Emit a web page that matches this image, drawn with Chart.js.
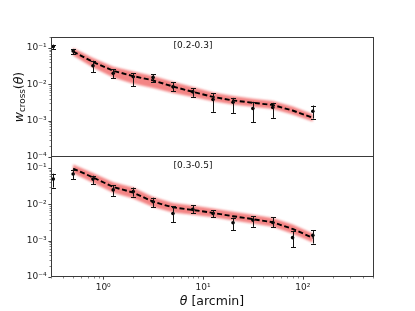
<!DOCTYPE html>
<html><head><meta charset="utf-8">
<script src="https://cdn.jsdelivr.net/npm/chart.js@4.4.1/dist/chart.umd.min.js"></script>
<style>
html,body{margin:0;padding:0;background:#fff;}
#wrap{position:relative;width:415px;height:311px;overflow:hidden;background:#fff;}
canvas{position:absolute;left:0;}
</style>
</head><body>
<div id="wrap">
<canvas id="c1" width="415" height="166" style="top:0px"></canvas>
<canvas id="c2" width="415" height="154" style="top:157px"></canvas>
</div>
<script>
// ---------- data ----------
const xTop = [0.316,0.5,0.79,1.26,2.0,3.16,5.0,7.9,12.6,20,31.6,50,126];
const yTop = [0.109,0.083,0.0325,0.020,0.0161,0.0155,0.0085,0.0062,0.0038,0.0032,0.00216,0.0023,0.00182];
const yTopHi = [0.123,0.094,0.0445,0.0258,0.020,0.0188,0.0113,0.0077,0.0056,0.00423,0.00329,0.00308,0.00261];
const yTopLo = [0.094,0.067,0.0213,0.0146,0.0089,0.0117,0.0065,0.0045,0.00174,0.00163,0.00089,0.00119,0.00114];

const xBot = [0.316,0.5,0.79,1.26,2.0,3.16,5.0,7.9,12.6,20,31.6,50,79,126];
const yBot = [0.0494,0.068,0.0494,0.0249,0.0224,0.0118,0.0056,0.00726,0.0056,0.0031,0.00367,0.00316,0.00121,0.0014];
const yBotHi = [0.0695,0.0897,0.061,0.0329,0.0289,0.0152,0.00897,0.00957,0.00681,0.00425,0.00473,0.00436,0.00185,0.00193];
const yBotLo = [0.0289,0.0494,0.036,0.017,0.0163,0.00826,0.00316,0.0056,0.00436,0.00193,0.00239,0.0023,0.00066,0.00083];

const xModel = [0.5,0.79,1.26,2.0,3.16,5.0,7.9,12.6,20,31.6,50,79,126];
const modelTop = [0.08,0.041,0.0235,0.0168,0.0128,0.0087,0.0062,0.0045,0.0036,0.0031,0.0027,0.0019,0.0012];
const bandTopHi = [0.100,0.0528,0.0303,0.0226,0.0169,0.0117,0.00836,0.00593,0.00474,0.00399,0.00348,0.00245,0.00151];
const bandTopLo = [0.0621,0.0290,0.0155,0.01035,0.00789,0.00575,0.00449,0.00341,0.00279,0.0024,0.00209,0.00148,0.00095];
const modelBot = [0.096,0.055,0.030,0.021,0.0118,0.0082,0.0070,0.0058,0.0047,0.0039,0.0032,0.0021,0.0012];
const bandBotHi = [0.1236,0.0724,0.0405,0.029,0.0159,0.0108,0.00923,0.00764,0.0062,0.00514,0.00422,0.00277,0.00158];
const bandBotLo = [0.0711,0.0389,0.0207,0.01452,0.00836,0.00594,0.00519,0.0044,0.00356,0.00296,0.00243,0.00156,0.00089];

const xTickValues = [1,10,100];
const xTickLabels = ['10\u2070','10\u00b9','10\u00b2'];
const yTickValues = [1e-4,1e-3,1e-2,1e-1];
const yTickLabels = ['10\u207b\u2074','10\u207b\u00b3','10\u207b\u00b2','10\u207b\u00b9'];
const panelLabels = ['[0.2-0.3]','[0.3-0.5]'];

const X_MIN = 0.3, X_MAX = 505, Y_MIN = 1e-4, Y_MAX = 0.2;
const FONT = '"DejaVu Sans", sans-serif';

function minorList(lo, hi){
  const out=[];
  for(let k=-6;k<=4;k++){ for(let m=1;m<=9;m++){ const v=m*Math.pow(10,k); if(v>=lo*0.999 && v<=hi*1.001) out.push({v, major:m===1}); } }
  return out;
}

const panelPlugin = {
  id:'panel',
  beforeDatasetsDraw(chart, args, o){
    const ctx=chart.ctx, a=chart.chartArea, xs=chart.scales.x, ys=chart.scales.y;
    ctx.save();
    ctx.beginPath(); ctx.rect(a.left,a.top,a.right-a.left,a.bottom-a.top); ctx.clip();
    ctx.filter='blur(1.3px)';
    ctx.beginPath();
    o.bandX.forEach((x,i)=>{ const px=xs.getPixelForValue(x), py=ys.getPixelForValue(o.bandHi[i]); i?ctx.lineTo(px,py):ctx.moveTo(px,py); });
    for(let i=o.bandX.length-1;i>=0;i--){ ctx.lineTo(xs.getPixelForValue(o.bandX[i]), ys.getPixelForValue(o.bandLo[i])); }
    ctx.closePath();
    ctx.fillStyle='rgba(242,122,122,0.92)';
    ctx.fill();
    ctx.restore();
  },
  afterDatasetsDraw(chart, args, o){
    const ctx=chart.ctx, xs=chart.scales.x, ys=chart.scales.y;
    ctx.save();
    ctx.strokeStyle='#111'; ctx.lineWidth=1;
    o.errX.forEach((x,i)=>{
      const px=Math.round(xs.getPixelForValue(x))+0.5;
      const y1=ys.getPixelForValue(o.errHi[i]), y2=ys.getPixelForValue(o.errLo[i]);
      ctx.beginPath();
      ctx.moveTo(px,y1); ctx.lineTo(px,y2);
      ctx.moveTo(px-2.5,Math.round(y1)+0.5); ctx.lineTo(px+2.5,Math.round(y1)+0.5);
      ctx.moveTo(px-2.5,Math.round(y2)+0.5); ctx.lineTo(px+2.5,Math.round(y2)+0.5);
      ctx.stroke();
    });
    ctx.restore();
  },
  afterDraw(chart, args, o){
    const ctx=chart.ctx, a=chart.chartArea, xs=chart.scales.x, ys=chart.scales.y;
    ctx.save();
    // frame
    ctx.strokeStyle='#3a3a3a'; ctx.lineWidth=1;
    ctx.beginPath();
    if(o.drawTop){ ctx.moveTo(a.left,a.top+0.5); ctx.lineTo(a.right,a.top+0.5); }
    ctx.moveTo(a.left+0.5,a.top); ctx.lineTo(a.left+0.5,a.bottom);
    ctx.moveTo(a.right+0.5,a.top); ctx.lineTo(a.right+0.5,a.bottom);
    ctx.moveTo(a.left,a.bottom-0.5); ctx.lineTo(a.right+1,a.bottom-0.5);
    ctx.stroke();
    // y ticks
    ctx.strokeStyle='#333';
    minorList(Y_MIN,Y_MAX).forEach(t=>{
      const py=Math.round(ys.getPixelForValue(t.v))+0.5;
      ctx.lineWidth=t.major?0.9:0.6;
      ctx.beginPath(); ctx.moveTo(a.left,py); ctx.lineTo(a.left-(t.major?2.6:1.5),py); ctx.stroke();
    });
    if(o.xTicks){
      minorList(X_MIN,X_MAX).forEach(t=>{
        const px=Math.round(xs.getPixelForValue(t.v))+0.5;
        ctx.lineWidth=t.major?0.9:0.6;
        ctx.beginPath(); ctx.moveTo(px,a.bottom); ctx.lineTo(px,a.bottom+(t.major?2.6:1.5)); ctx.stroke();
      });
    }
    // panel label
    ctx.fillStyle='#111';
    ctx.font='9px '+FONT; ctx.textAlign='center'; ctx.textBaseline='middle';
    ctx.fillText(o.label, o.labelX, o.labelY);
    if(o.yTitle){
      ctx.save();
      ctx.translate(o.yTitle.x,o.yTitle.y); ctx.rotate(-Math.PI/2);
      const parts=[['w','italic 12.5px '+FONT,0],['cross','8.8px '+FONT,2.6],['(','12.5px '+FONT,0],['\u03b8','italic 12.5px '+FONT,0],[')','12.5px '+FONT,0]];
      let w=0; parts.forEach(p=>{ctx.font=p[1]; w+=ctx.measureText(p[0]).width;});
      let cx=-w/2; ctx.textAlign='left'; ctx.textBaseline='alphabetic';
      parts.forEach(p=>{ctx.font=p[1]; ctx.fillText(p[0],cx,4.2+p[2]); cx+=ctx.measureText(p[0]).width;});
      ctx.restore();
    }
    if(o.xTitle){
      const parts=[['\u03b8','italic 12.5px '+FONT],[' [arcmin]','12.5px '+FONT]];
      let w=0; parts.forEach(p=>{ctx.font=p[1]; w+=ctx.measureText(p[0]).width;});
      let cx=o.xTitle.x-w/2; ctx.textAlign='left'; ctx.textBaseline='alphabetic';
      parts.forEach(p=>{ctx.font=p[1]; ctx.fillText(p[0],cx,o.xTitle.y); cx+=ctx.measureText(p[0]).width;});
    }
    ctx.restore();
  }
};

function pts(xs, ys){ return xs.map((x,i)=>({x, y:ys[i]})); }

function makeChart(id, cfg){
  return new Chart(document.getElementById(id), {
    type:'scatter',
    data:{datasets:[
      {data:pts(cfg.ex, cfg.ey), pointRadius:1.8, pointBackgroundColor:'#000', pointBorderWidth:0, showLine:false},
      {data:pts(xModel, cfg.model), showLine:true, borderColor:'#000', borderWidth:1.9, borderDash:[5,2.6], pointRadius:0, fill:false, tension:0}
    ]},
    plugins:[panelPlugin],
    options:{
      responsive:false, animation:false, devicePixelRatio:1, events:[],
      layout:{autoPadding:false, padding:{top:cfg.padTop, right:42, bottom:cfg.padBottom, left:0}},
      plugins:{legend:{display:false}, tooltip:{enabled:false},
        panel:{bandX:xModel, bandHi:cfg.bandHi, bandLo:cfg.bandLo, errX:cfg.ex, errHi:cfg.eHi, errLo:cfg.eLo,
               drawTop:cfg.drawTop, xTicks:cfg.showX, label:cfg.label, labelX:193, labelY:cfg.labelY,
               yTitle:cfg.yTitle, xTitle:cfg.xTitle}},
      scales:{
        x:{type:'logarithmic', min:X_MIN, max:X_MAX, display:cfg.showX,
           grid:{display:false, drawTicks:false}, border:{display:false},
           afterBuildTicks:s=>{ s.ticks = xTickValues.map(v=>({value:v})); },
           ticks:{autoSkip:false, maxRotation:0, minRotation:0, padding:5, color:'#222', font:{family:FONT,size:9},
                  callback:(v,i)=>xTickLabels[i]},
           afterFit:s=>{ s.height = cfg.showX ? 34 : 0; s.paddingLeft=0; s.paddingRight=0; s.paddingTop=0; s.paddingBottom=0; }},
        y:{type:'logarithmic', min:Y_MIN, max:Y_MAX,
           grid:{display:false, drawTicks:false}, border:{display:false},
           afterBuildTicks:s=>{ s.ticks = yTickValues.map(v=>({value:v})); },
           ticks:{autoSkip:false, padding:4.5, color:'#222', font:{family:FONT,size:9},
                  callback:(v,i)=>yTickLabels[i]},
           afterFit:s=>{ s.width = 51; s.paddingTop=0; s.paddingBottom=0; s.paddingLeft=0; s.paddingRight=0; }}
      }
    }
  });
}

makeChart('c1', {ex:xTop, ey:yTop, eHi:yTopHi, eLo:yTopLo, model:modelTop, bandHi:bandTopHi, bandLo:bandTopLo,
  padTop:37, padBottom:9, showX:false, drawTop:true, label:panelLabels[0], labelY:45.7,
  yTitle:{x:18.5,y:97}, xTitle:null});
makeChart('c2', {ex:xBot, ey:yBot, eHi:yBotHi, eLo:yBotLo, model:modelBot, bandHi:bandBotHi, bandLo:bandBotLo,
  padTop:0, padBottom:0, showX:true, drawTop:false, label:panelLabels[1], labelY:8.2,
  yTitle:null, xTitle:{x:212,y:148}});
</script>
</body></html>
